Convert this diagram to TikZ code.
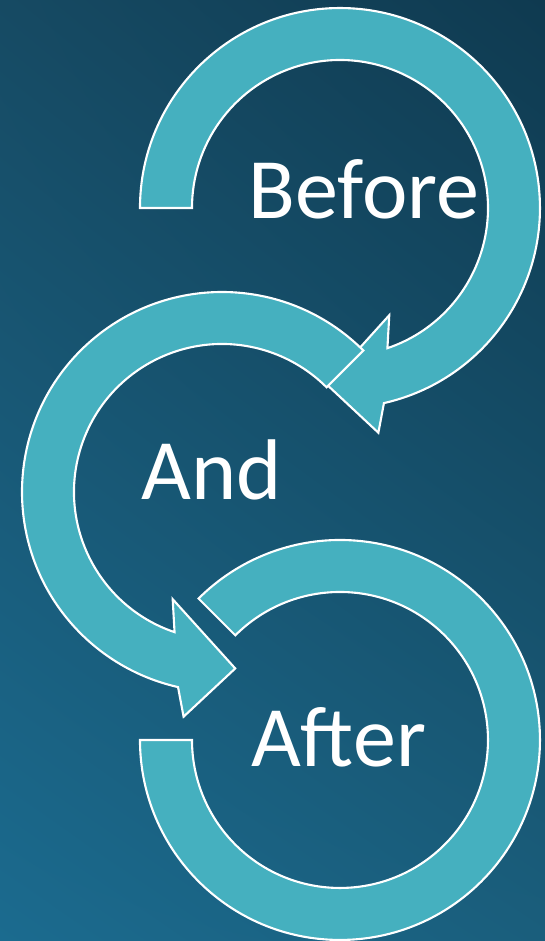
\documentclass[tikz,border=0pt]{standalone}
\usepackage{fontspec}
\setmainfont{Carlito}
\usetikzlibrary{shadings}

\definecolor{ringfill}{HTML}{45B0BF}
\definecolor{bgll}{HTML}{1B6B8F}
\definecolor{bgul}{HTML}{164A63}
\definecolor{bgur}{HTML}{0F3A50}
\definecolor{bglr}{HTML}{1A5E7C}

\tikzset{
  ring/.style={fill=ringfill, draw=white, line width=0.6pt, line join=miter},
  steptext/.style={text=white, anchor=base, inner sep=0pt,
    font=\fontsize{24.5}{29}\selectfont}
}

% ring arrow running counter-clockwise from angle #1, head at angle #2
\newcommand{\headring}[2]{%
  \draw[ring] (#1:2) arc[start angle=#1, end angle=#2+3, radius=2]
    -- (#2+6:2.28) -- (#2+20:1.77) -- (#2-9:1.18) -- (#2-3:1.48)
    arc[start angle=#2-3, end angle=#1, radius=1.48] -- cycle;}

\begin{document}
\begin{tikzpicture}
  \shade[lower left=bgll, upper left=bgul, upper right=bgur, lower right=bglr]
    (0,-9.41) rectangle (5.45,0);

  \begin{scope}[shift={(3.40,-2.08)}, xscale=-1]
    \headring{0}{254.3}
  \end{scope}

  \begin{scope}[shift={(2.22,-4.92)}]
    \headring{45}{254.3}
  \end{scope}

  \begin{scope}[shift={(3.40,-7.40)}]
    \draw[ring] (180:2) arc[start angle=180, end angle=495, radius=2]
      -- (495:1.48) arc[start angle=495, end angle=180, radius=1.48] -- cycle;
  \end{scope}

  \node[steptext] (before) at (3.64,-2.18) {Before};
  \node[steptext] (and) at (2.115,-5.00) {And};
  \node[steptext] (after) at (3.385,-7.67) {After};
\end{tikzpicture}
\end{document}
